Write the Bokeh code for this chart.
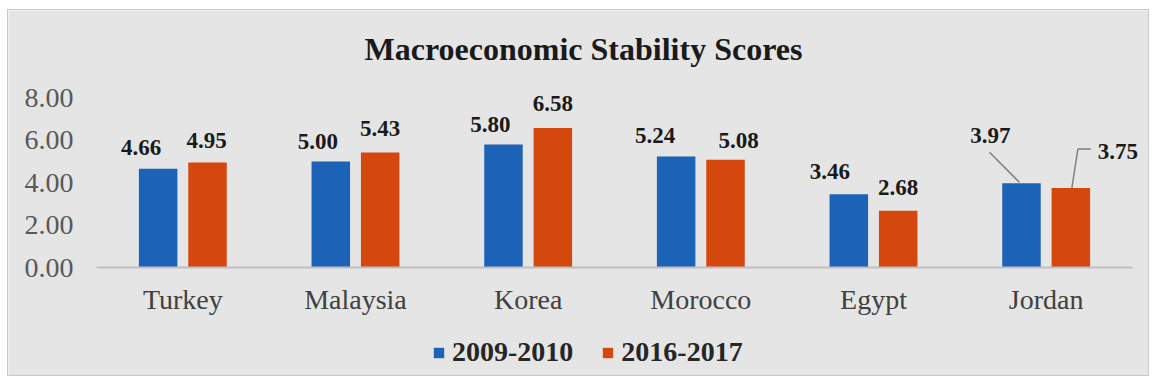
from bokeh.plotting import figure
from bokeh.models import Range1d, FixedTicker, Legend, LegendItem, ColumnDataSource, Label
from bokeh.embed import file_html
from bokeh.resources import INLINE
from bokeh.core.properties import value

# ---- data ----
countries = ["Turkey", "Malaysia", "Korea", "Morocco", "Egypt", "Jordan"]
series_names = ["2009-2010", "2016-2017"]
scores_2009_2010 = [4.66, 5.00, 5.80, 5.24, 3.46, 3.97]
scores_2016_2017 = [4.95, 5.43, 6.58, 5.08, 2.68, 3.75]
y_ticks = [0, 2, 4, 6, 8]
y_tick_labels = ["0.00", "2.00", "4.00", "6.00", "8.00"]
title_text = "Macroeconomic Stability Scores"

# ---- style / layout ----
colors = ["#1c63b7", "#d4470d"]
bar_offsets = [-0.143, 0.143]
bar_width = 0.223
serif = "Liberation Serif"
# pixel offsets of the value labels from the top centre of each bar
label_dx = [[-17, -13, -13, -21, -19, -31], [-1, 0, 0, 13, 0, 47]]
label_dy = [[-21, -20, -20, -21, -23, -48], [-22, -24, -25, -19, -23, -37]]
W, H = 1140, 365
PX_X = 172.7   # pixels per category
PX_Y = 21.2    # pixels per unit
LEFT, RIGHT, TOP, BOTTOM = 88, 16, 81, 108   # space around the plotting area

x_positions = list(range(len(countries)))
x_range = Range1d(-0.5 - LEFT / PX_X, len(countries) - 0.5 + RIGHT / PX_X)
y_range = Range1d(-BOTTOM / PX_Y, (H - BOTTOM) / PX_Y)

p = figure(
    x_range=x_range, y_range=y_range,
    width=W, height=H,
    output_backend="svg", toolbar_location=None,
    min_border_left=0, min_border_right=0, min_border_top=0, min_border_bottom=0,
    background_fill_color="#e5e5e5", border_fill_color="#e5e5e5",
    outline_line_color=None,
)
p.margin = (10, 4, 10, 8)
p.styles = {"outline": "1px solid #c9c9c9"}

p.add_layout(Label(
    text=title_text, x=575, y=H - 38, x_units="screen", y_units="screen",
    text_font=serif, text_font_size="32px", text_font_style="bold",
    text_color="#1a1a1a", text_align="center", text_baseline="middle",
))

renderers = []
for k, vals in enumerate([scores_2009_2010, scores_2016_2017]):
    xs = [x + bar_offsets[k] for x in x_positions]
    src = ColumnDataSource(dict(
        x=xs, top=vals,
        label=["%.2f" % v for v in vals],
        dx=label_dx[k], dy=label_dy[k],
    ))
    r = p.vbar(x="x", top="top", width=bar_width, source=src,
               fill_color=colors[k], line_color=None)
    renderers.append(r)
    p.text(x="x", y="top", text="label", x_offset="dx", y_offset="dy", source=src,
           text_font=value(serif), text_font_size="23px", text_font_style="bold",
           text_color="#1a1a1a", text_align="center", text_baseline="middle")

# leader lines for Jordan labels
j = countries.index("Jordan")
bx0 = x_positions[j] + bar_offsets[0]
bx1 = x_positions[j] + bar_offsets[1]
v0 = scores_2009_2010[j]
v1 = scores_2016_2017[j]
leader_xs = [
    [bx0 - 32 / PX_X, bx0 - 2 / PX_X],
    [bx1 + 1 / PX_X, bx1 + 7 / PX_X, bx1 + 20 / PX_X],
]
leader_ys = [
    [v0 + 31 / PX_Y, v0 + 1 / PX_Y],
    [v1, v1 + 39 / PX_Y, v1 + 39 / PX_Y],
]
p.multi_line(xs=leader_xs, ys=leader_ys, line_color="#7f7f7f", line_width=1.5)

# axes
p.xgrid.grid_line_color = None
p.ygrid.grid_line_color = None

yax = p.yaxis[0]
yax.fixed_location = -0.5
yax.ticker = FixedTicker(ticks=y_ticks)
yax.major_label_overrides = {t: l for t, l in zip(y_ticks, y_tick_labels)}
yax.axis_line_color = None
yax.major_tick_line_color = None
yax.minor_tick_line_color = None
yax.major_label_standoff = 17
yax.major_label_text_font = serif
yax.major_label_text_font_size = "28px"
yax.major_label_text_color = "#595959"

xax = p.xaxis[0]
xax.fixed_location = 0
xax.bounds = (-0.5, len(countries) - 0.5)
xax.ticker = FixedTicker(ticks=x_positions)
xax.major_label_overrides = {x: c for x, c in zip(x_positions, countries)}
xax.axis_line_color = "#bfbfbf"
xax.axis_line_width = 2
xax.major_tick_line_color = None
xax.minor_tick_line_color = None
xax.major_label_standoff = 10
xax.major_label_text_font = serif
xax.major_label_text_font_size = "28px"
xax.major_label_text_color = "#404040"

legend = Legend(
    items=[LegendItem(label=series_names[k], renderers=[renderers[k]]) for k in range(2)],
    orientation="horizontal", location=(424, 7),
    label_text_font=serif, label_text_font_size="28px", label_text_font_style="bold",
    label_text_color="#262626",
    glyph_width=13, glyph_height=13, label_standoff=7, spacing=28,
    background_fill_alpha=0, border_line_color=None, padding=0, margin=0,
)
p.add_layout(legend, "center")

open("out.html", "w").write(file_html(p, INLINE))
